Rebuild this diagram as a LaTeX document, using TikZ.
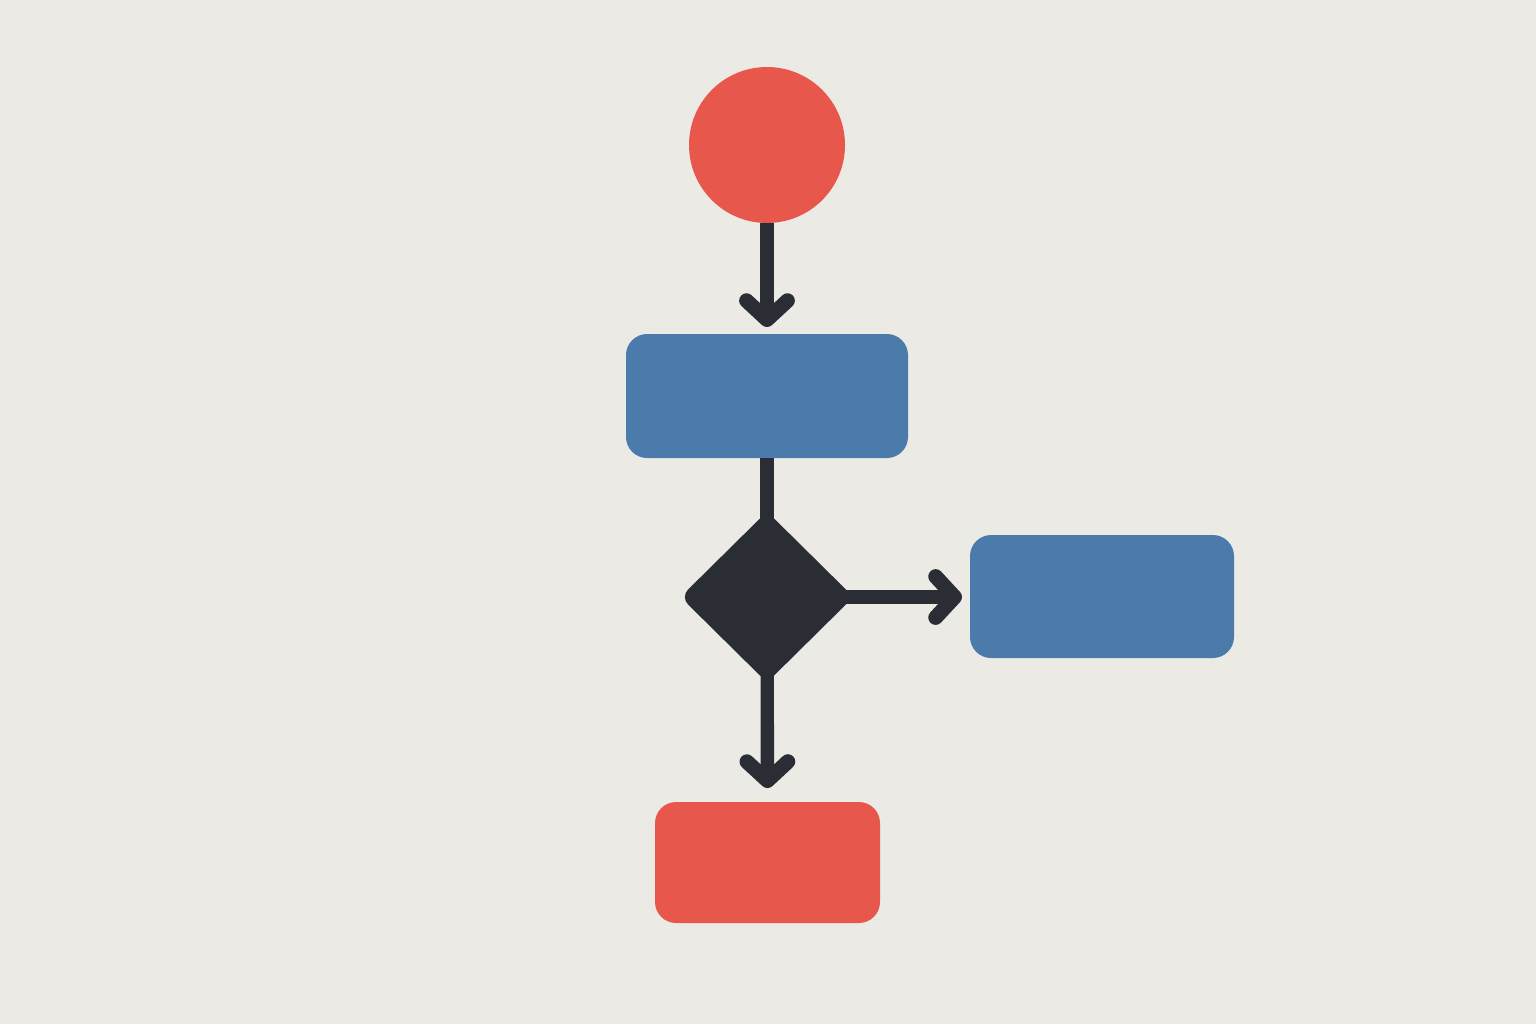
\documentclass[tikz,border=0pt]{standalone}
\usetikzlibrary{shapes.geometric, arrows.meta}
\definecolor{pagebg}{RGB}{235, 234, 229}
\definecolor{startred}{RGB}{232, 87, 76}
\definecolor{stepblue}{RGB}{74, 123, 171}
\definecolor{darkink}{RGB}{42, 46, 52}

\tikzset{
  stepbox/.style={rectangle, rounded corners=6pt, inner sep=0pt, outer sep=0pt, fill=#1},
  flow/.style={draw=darkink, line width=3.8pt,
    -{Straight Barb[length=0.19cm, width=0.41cm, line width=4.2pt, round]}},
  joint/.style={draw=darkink, line width=3.8pt}
}

\begin{document}
\begin{tikzpicture}
  % Background and page size
  \fill[pagebg] (0, 0) rectangle (15.36, -10.24);
  \useasboundingbox (0, 0) rectangle (15.36, -10.24);

  % Start
  \node[circle, fill=startred, inner sep=0pt, outer sep=0pt, minimum size=1.56cm] (start) at (7.67, -1.45) {};

  % Process
  \node[stepbox=stepblue, minimum width=2.82cm, minimum height=1.24cm] (process) at (7.67, -3.96) {};

  % Decision
  \node[diamond, fill=darkink, inner sep=0pt, outer sep=0pt, minimum width=1.73cm, minimum height=1.71cm, rounded corners=3pt] (decide) at (7.67, -5.97) {};

  % Branch
  \node[stepbox=stepblue, minimum width=2.64cm, minimum height=1.23cm] (branch) at (11.02, -5.965) {};

  % End
  \node[stepbox=startred, minimum width=2.25cm, minimum height=1.21cm] (finish) at (7.675, -8.625) {};

  % Connectors (same ink as the decision, so they may start at its centre)
  \draw[flow, shorten >=0.07cm] (start.south) -- (process.north);
  \draw[joint] (process.south) -- (decide.center);
  \draw[flow, shorten >=0.08cm] (decide.center) -- (decide.center -| branch.west);
  \draw[flow, shorten >=0.14cm] (decide.center) -- (finish.north);
\end{tikzpicture}
\end{document}
